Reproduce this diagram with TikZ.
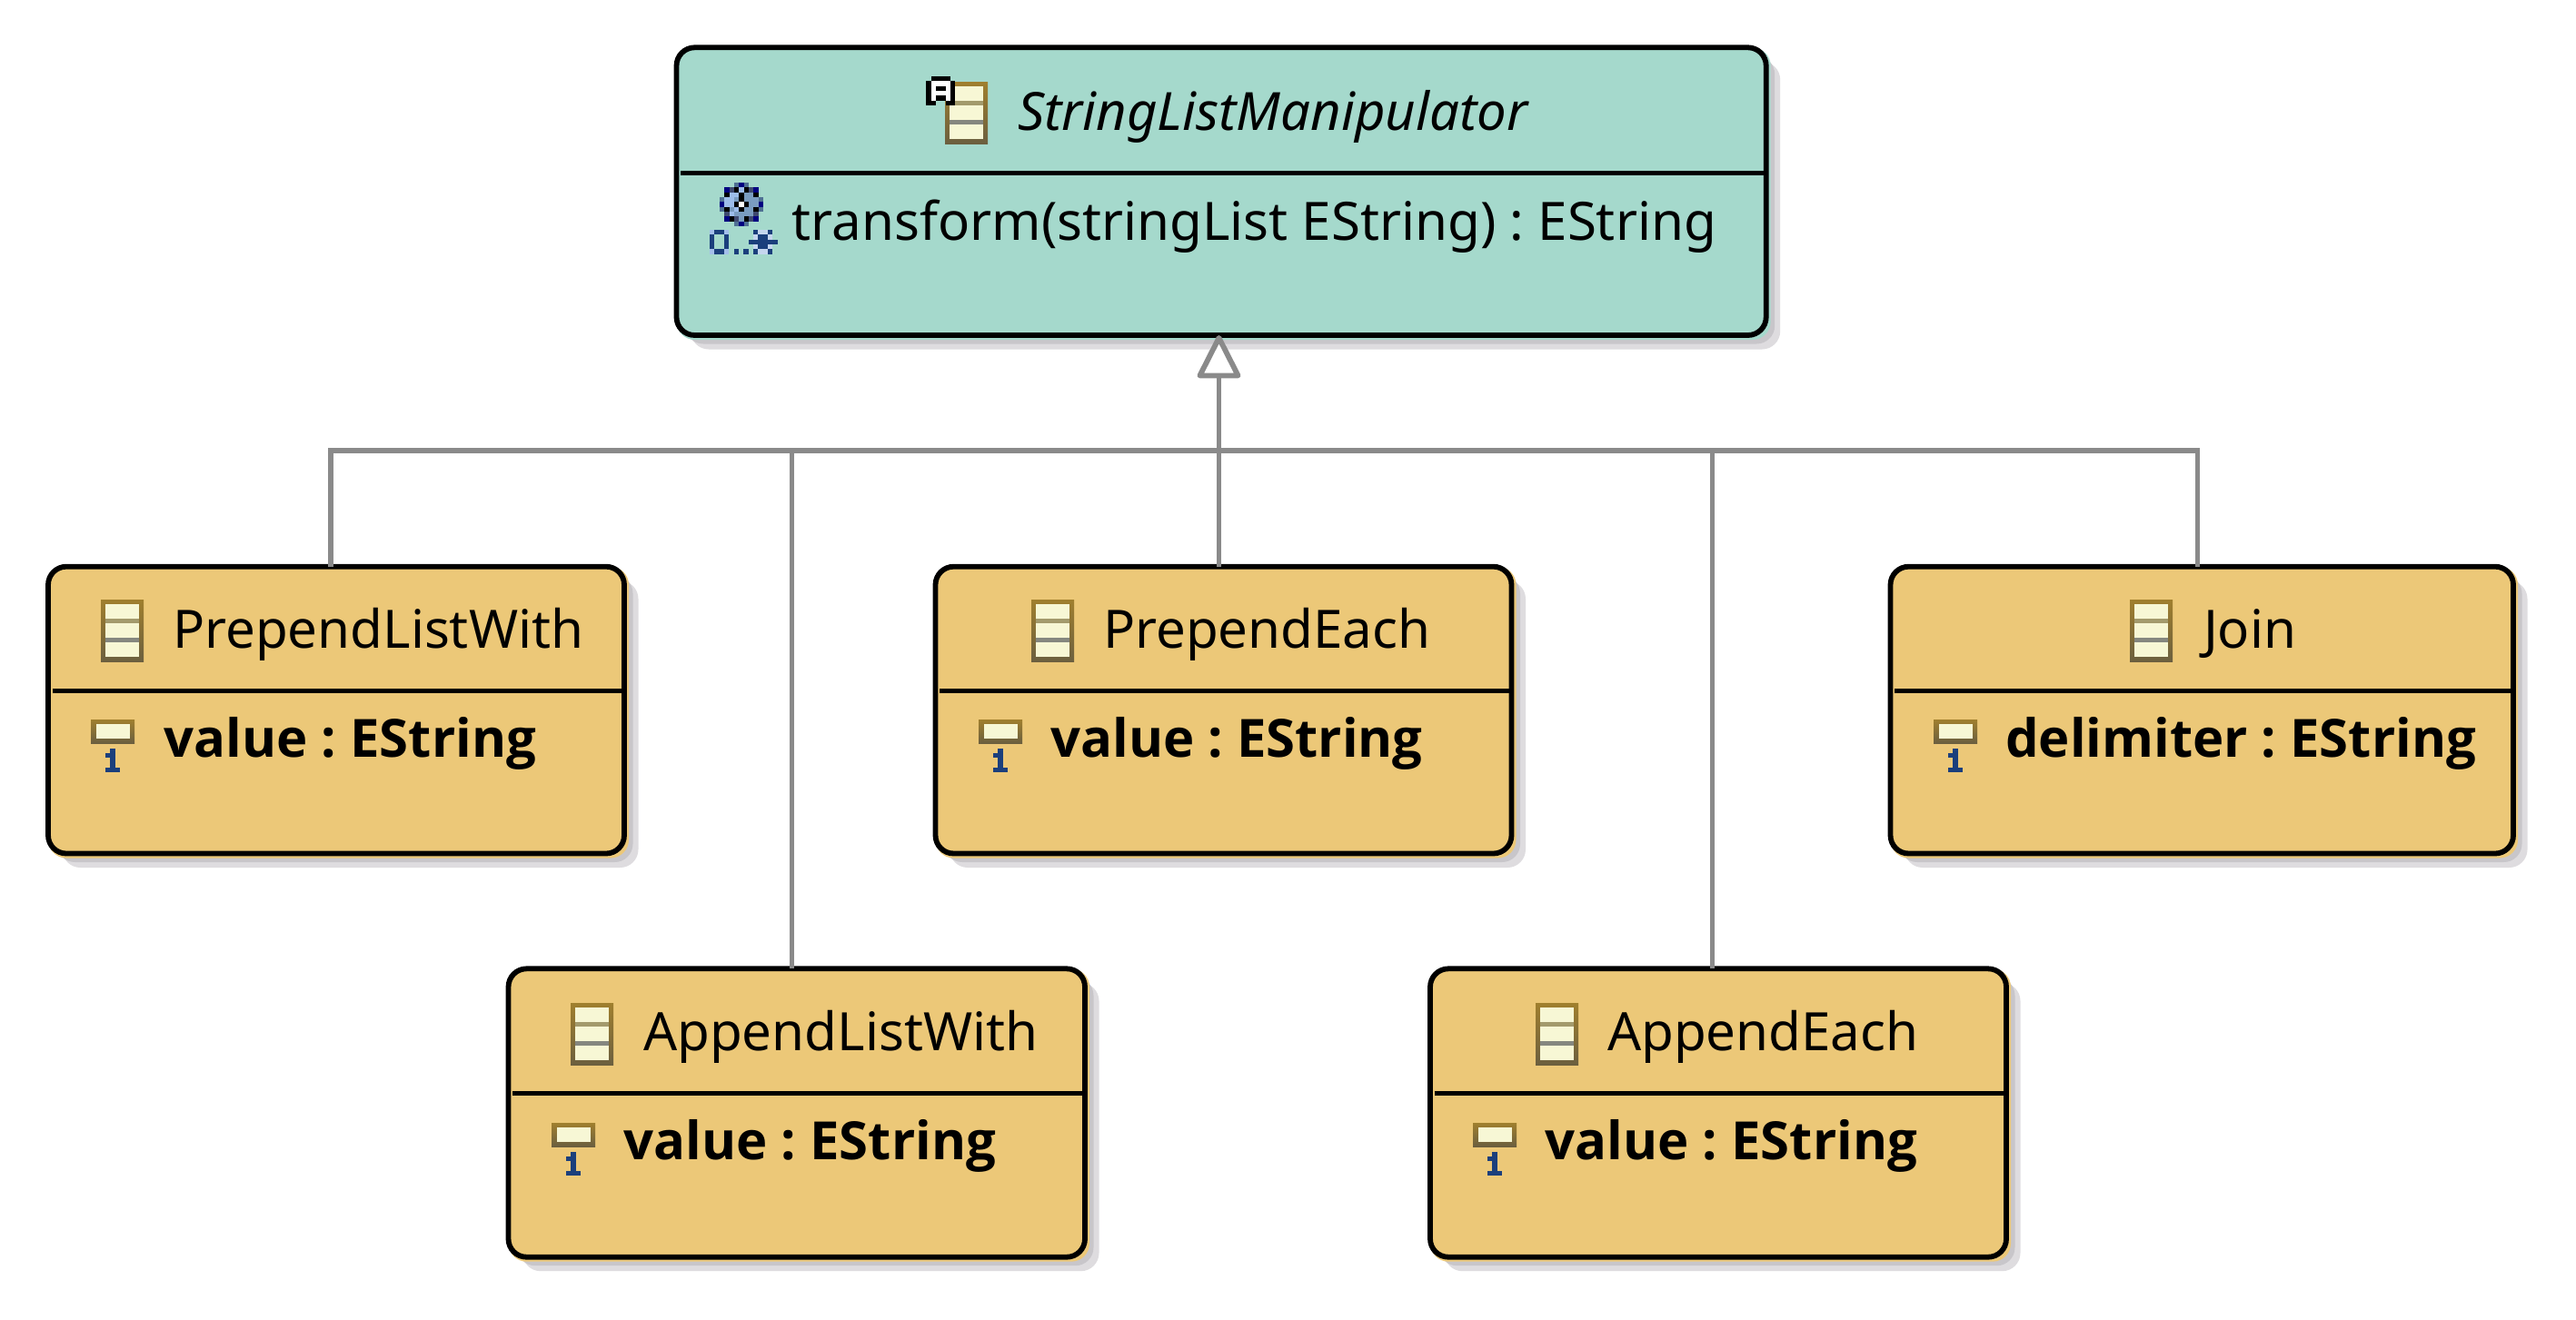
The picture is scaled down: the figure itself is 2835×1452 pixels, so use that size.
\documentclass[tikz,border=0pt]{standalone}
\usepackage{fontspec}
\setmainfont{Noto Sans}
\newfontfamily\attrfont{Open Sans}
\usetikzlibrary{arrows.meta}
\definecolor{tealbox}{HTML}{A5D9CC}
\definecolor{sandbox}{HTML}{ECC878}
\definecolor{shadowdk}{HTML}{C8C6CA}
\definecolor{shadowlt}{HTML}{DEDCDF}
\definecolor{connclr}{HTML}{8A8A8A}
\definecolor{iconcream}{HTML}{F7F7D5}
\definecolor{icontop}{HTML}{A07F2E}
\definecolor{iconbot}{HTML}{6B5F3F}
\definecolor{barA}{HTML}{A39A6C}
\definecolor{barB}{HTML}{85877F}
\definecolor{pxdk}{HTML}{1B3F7C}
\definecolor{pxlt}{HTML}{A4BFEA}
\definecolor{pxstar}{HTML}{C5D6EE}
\definecolor{pxN}{HTML}{000080}
\definecolor{pxS}{HTML}{4F7093}
\definecolor{pxL}{HTML}{9DBDEA}
\definecolor{pxM}{HTML}{7A9CC0}
\definecolor{pxD}{HTML}{3F4A70}
\frenchspacing
\tikzset{
  boxnode/.style={draw=black,line width=5.8pt,rounded corners=20pt,inner sep=0pt,outer sep=0pt,anchor=north west},
  rule/.style={draw=black,line width=5.6pt},
  titletext/.style={anchor=base west,inner sep=0pt,outer sep=0pt,font=\fontsize{58.25}{62}\selectfont},
  attrtext/.style={titletext,font=\attrfont\bfseries\fontsize{58}{62}\selectfont},
  conn/.style={draw=connclr,line width=5.8pt},
  gen/.style={conn,-{Triangle[open,fill=white,length=51pt,width=50pt,round=false]}},
}
\newcommand{\classbox}[7]{%
  \fill[shadowlt,rounded corners=20pt] (#2+15.5,#3+15.5) rectangle (#4+15.5,#5+15.5);
  \fill[shadowdk,rounded corners=20pt] (#2+9.5,#3+9.5) rectangle (#4+9.5,#5+9.5);
  \fill[#7,rounded corners=20pt] (#2,#3) rectangle (#4+5,#5+5);
  \node[boxnode,minimum width={(#4-#2)*1pt},minimum height={(#5-#3)*1pt}] (#1) at (#2,#3) {};
  \draw[rule] (#2+4.5,#6) -- (#4,#6);
}
\newcommand{\classicon}[2]{%
  \shade[top color=icontop,bottom color=iconbot] (#1,#2) rectangle (#1+47,#2+68.7);
  \fill[iconcream] (#1+5,#2+5) rectangle (#1+42.3,#2+63.3);
  \fill[barA] (#1+5,#2+20.7) rectangle (#1+42.3,#2+26);
  \fill[barB] (#1+5,#2+42) rectangle (#1+42.3,#2+47.3);
}
\newcommand{\attricon}[2]{%
  \shade[top color=icontop,bottom color=iconbot] (#1,#2) rectangle (#1+48,#2+26);
  \fill[iconcream] (#1+6,#2+5) rectangle (#1+43.3,#2+21);
  \fill[pxdk] (#1+21.3,#2+32) rectangle (#1+26.7,#2+53);
  \fill[pxdk] (#1+16,#2+53) rectangle (#1+32,#2+58);
  \fill[pxdk] (#1+16,#2+37) rectangle (#1+21.3,#2+42.3);
}
\newcommand{\px}[5]{\fill[#5] (#1+#3*5.333,#2+#4*5.333) rectangle (#1+#3*5.333+5.4,#2+#4*5.333+5.4);}
\begin{document}
\begin{tikzpicture}[x=1pt,y=-1pt]
\useasboundingbox (0,0) rectangle (2835,1452);
\fill[white] (0,0) rectangle (2835,1452);

% class boxes
\classbox{top}{744.5}{52.3}{1943.7}{369}{190.5}{tealbox}
\classbox{pl}{53}{623.7}{687}{939.5}{760.5}{sandbox}
\classbox{pe}{1029.5}{623.7}{1663.5}{939.5}{760.5}{sandbox}
\classbox{jn}{2080.5}{623.7}{2766}{939.5}{760.5}{sandbox}
\classbox{al}{559.5}{1066.3}{1194}{1383.7}{1203.3}{sandbox}
\classbox{ae}{1574}{1066.3}{2208}{1383.7}{1203.3}{sandbox}

% connector ports and bus
\coordinate (bus) at (1341.5,496.3);
\coordinate (plport) at (364,623.7);
\coordinate (peport) at (1341.5,623.7);
\coordinate (jnport) at (2418.5,623.7);
\coordinate (alport) at (871.5,1066.3);
\coordinate (aeport) at (1884.5,1066.3);
\coordinate (topport) at (1341.5,369);
\draw[conn] (plport) -- (plport |- bus) -- (bus);
\draw[conn] (alport) -- (alport |- bus) -- (bus);
\draw[conn] (jnport) -- (jnport |- bus) -- (bus);
\draw[conn] (aeport) -- (aeport |- bus) -- (bus);
\draw[gen] (peport) -- (topport);

% top class
\classicon{1040}{90}
\foreach \c/\r/\k in {1/0/black,2/0/black,3/0/black,4/0/black,
  0/1/black,0/2/black,0/3/black,0/4/black,0/5/black,1/5/black,
  5/1/black,5/2/black,5/3/black,5/4/black,5/5/black,4/5/black,
  1/1/white,2/1/white,3/1/white,4/1/white,
  1/2/white,2/2/black,3/2/black,4/2/white,
  1/3/white,2/3/white,3/3/white,4/3/white,
  1/4/white,2/4/black,3/4/black,4/4/white}
  {\px{1019.3}{84}{\c}{\r}{\k}}
\node[titletext,font=\fontsize{58}{62}\selectfont\itshape] (toptitle) at (1120,143) {StringListManipulator};
% operation icon: gear
\foreach \c/\r/\k in {3/0/pxS,4/0/pxN,5/0/pxS,
  1/1/pxN,2/1/pxD,3/1/black,4/1/pxL,5/1/black,6/1/pxD,7/1/pxN,
  1/2/black,2/2/pxL,3/2/pxL,4/2/black,5/2/pxM,6/2/pxM,7/2/black,
  0/3/pxS,1/3/pxL,2/3/pxL,3/3/pxM,4/3/black,5/3/pxM,6/3/pxM,7/3/pxM,8/3/pxS,
  0/4/pxN,1/4/pxL,2/4/pxL,3/4/black,4/4/white,5/4/black,6/4/pxM,7/4/pxM,8/4/pxN,
  0/5/pxS,1/5/black,2/5/pxM,3/5/pxL,4/5/black,5/5/pxM,6/5/pxM,7/5/black,8/5/pxS,
  1/6/pxD,2/6/pxL,3/6/pxM,4/6/pxM,5/6/pxM,6/6/pxM,7/6/pxD,
  1/7/pxN,2/7/black,3/7/pxD,4/7/pxM,5/7/black,6/7/pxD,7/7/pxN,
  3/8/pxS,4/8/pxN,5/8/pxS}
  {\px{792}{201}{\c}{\r}{\k}}
% operation icon: 0..*
\foreach \c/\r/\k in {0/0/pxlt,1/0/pxdk,2/0/pxdk,3/0/pxlt,
  0/1/pxdk,3/1/pxdk,0/2/pxdk,3/2/pxdk,0/3/pxdk,3/3/pxdk,
  0/4/pxlt,1/4/pxdk,2/4/pxdk,3/4/pxlt,
  5/4/pxdk,7/4/pxdk,
  9/0/pxdk,10/0/pxstar,11/0/pxstar,12/0/pxdk,
  9/1/pxstar,10/1/pxdk,11/1/pxdk,12/1/pxstar,
  8/2/pxdk,9/2/pxdk,10/2/pxdk,11/2/pxdk,12/2/pxdk,13/2/pxdk,
  9/3/pxstar,10/3/pxdk,11/3/pxdk,12/3/pxstar,
  9/4/pxdk,10/4/pxstar,11/4/pxstar,12/4/pxdk}
  {\px{781}{253}{\c}{\r}{\k}}
\node[titletext] (topop) at (871.7,264) {transform(stringList EString) : EString};

% PrependListWith
\classicon{111}{660}
\node[titletext] (pltitle) at (190,713) {PrependListWith};
\attricon{100}{792}
\node[attrtext] (plattr) at (180.7,833.5) {value : EString};

% PrependEach
\classicon{1135}{660}
\node[titletext] (petitle) at (1214,713) {PrependEach};
\attricon{1077}{792}
\node[attrtext] (peattr) at (1156.5,833.5) {value : EString};

% Join
\classicon{2344}{660}
\node[titletext] (jntitle) at (2425,713) {Join};
\attricon{2128}{792}
\node[attrtext] (jnattr) at (2207,833.5) {delimiter : EString};

% AppendListWith
\classicon{628}{1104}
\node[titletext] (altitle) at (708,1156) {AppendListWith};
\attricon{607}{1236}
\node[attrtext] (alattr) at (686.7,1276.5) {value : EString};

% AppendEach
\classicon{1690}{1104}
\node[titletext] (aetitle) at (1769,1156) {AppendEach};
\attricon{1621}{1236}
\node[attrtext] (aeattr) at (1700.7,1276.5) {value : EString};
\end{tikzpicture}
\end{document}
